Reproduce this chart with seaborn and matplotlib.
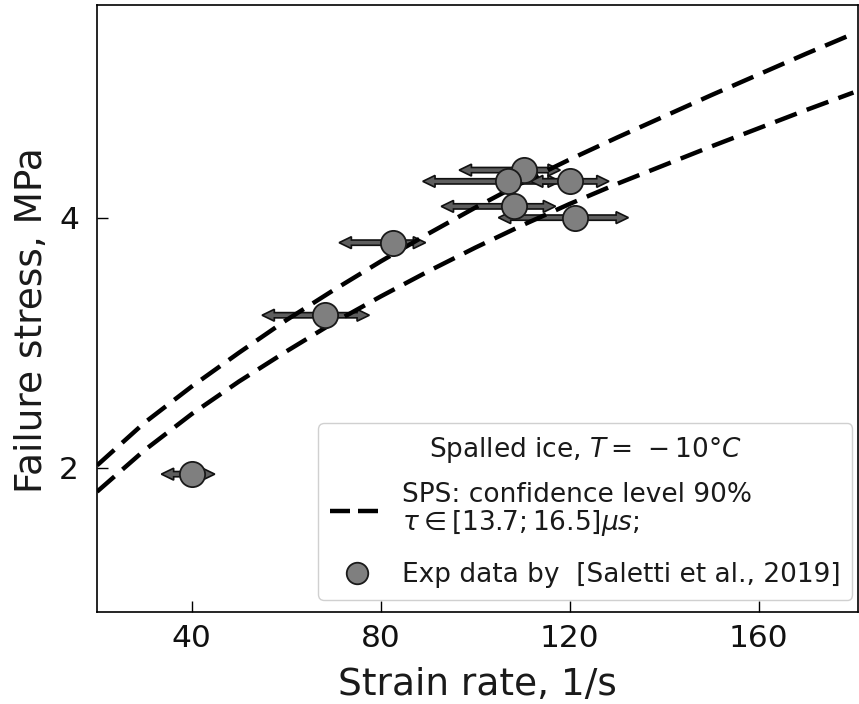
import matplotlib
matplotlib.use("Agg")
import matplotlib.pyplot as plt
import seaborn as sns
import pandas as pd
from matplotlib.lines import Line2D

# ---- data ----
curve_x = [20, 30, 40, 50, 60, 70, 80, 90, 100, 110, 120, 130, 140, 150, 160, 170, 180]
upper_y = [2.02, 2.36, 2.65, 2.92, 3.18, 3.42, 3.65, 3.87, 4.08, 4.28, 4.465, 4.64, 4.81, 4.98, 5.145, 5.31, 5.47]
lower_y = [1.81, 2.14, 2.43, 2.69, 2.93, 3.16, 3.37, 3.57, 3.76, 3.94, 4.11, 4.27, 4.42, 4.57, 4.715, 4.86, 5.00]

exp_rate = [40.0, 68.2, 82.5, 110.3, 106.9, 120.0, 108.2, 121.1]
exp_stress = [1.95, 3.22, 3.80, 4.38, 4.29, 4.29, 4.09, 4.00]
exp_rate_lo = [33.6, 54.9, 71.2, 96.6, 88.9, 111.7, 92.8, 104.9]
exp_rate_hi = [44.9, 77.6, 89.5, 118.0, 118.0, 128.3, 117.0, 132.4]

xticks = [40, 80, 120, 160]
yticks = [2, 4]

sns.set_theme(style="white")
plt.rcParams['font.family'] = ['DejaVu Sans']
plt.rcParams['mathtext.fontset'] = 'dejavusans'

fig = plt.figure(figsize=(8.59, 7.04), dpi=100)
ax = fig.add_axes([0.113, 0.131, 0.886, 0.862])

curves = pd.DataFrame({"rate": curve_x * 2,
                       "stress": upper_y + lower_y,
                       "bound": ["upper"] * len(curve_x) + ["lower"] * len(curve_x)})
for b in ["upper", "lower"]:
    sns.lineplot(data=curves[curves.bound == b], x="rate", y="stress", ax=ax,
                 color="black", lw=3.2, zorder=3, estimator=None, sort=True)
for ln in ax.get_lines():
    ln.set_dashes((5.2, 2.4))

# error arrows
for x, y, lo, hi in zip(exp_rate, exp_stress, exp_rate_lo, exp_rate_hi):
    for end in (lo, hi):
        ax.arrow(x, y, end - x, 0, width=0.042, head_width=0.095, head_length=2.6,
                 length_includes_head=True, fc="#5e5e5e", ec="#111111", lw=1.2, zorder=2)

exp = pd.DataFrame({"rate": exp_rate, "stress": exp_stress})
sns.scatterplot(data=exp, x="rate", y="stress", ax=ax, s=330, color="#7f7f7f",
                edgecolor="#1a1a1a", linewidth=1.3, zorder=5)

ax.set_xlim(20, 181)
ax.set_ylim(0.85, 5.7)
ax.set_xticks(xticks)
ax.set_yticks(yticks)
ax.tick_params(direction="in", length=8, width=1, labelsize=22.5,
               bottom=True, left=True, top=False, right=False, colors="black")
ax.tick_params(axis="x", pad=9)
ax.tick_params(axis="y", pad=13)
for t in ax.get_xticklabels() + ax.get_yticklabels():
    t.set_color("#111111")
for sp in ax.spines.values():
    sp.set_color("black")
    sp.set_linewidth(1.2)
ax.set_xlabel("Strain rate, 1/s", fontsize=27, labelpad=10, color="#1a1a1a")
ax.set_ylabel("Failure stress, MPa", fontsize=27, color="#1a1a1a")
ax.yaxis.set_label_coords(-0.062, 0.48)

handles = [Line2D([], [], color="black", lw=3.2, dashes=(4.5, 1.8)),
           Line2D([], [], marker="o", ls="", ms=15.5, mfc="#7f7f7f", mec="#1a1a1a", mew=1.3)]
labels = ["SPS: confidence level 90%\n" + r"$\tau \in [13.7; 16.5] \mu s$;",
          "Exp data by  [Saletti et al., 2019]"]
leg = ax.legend(handles, labels, loc="lower right", fontsize=19,
                title=r"Spalled ice, $T = \,-10°C$", title_fontsize=19,
                frameon=True, fancybox=True, framealpha=1, edgecolor="#d0d0d0",
                handlelength=2.0, handletextpad=0.7, borderpad=0.45, labelspacing=0.9,
                borderaxespad=0, bbox_to_anchor=(0.992, 0.02))
leg._legend_box.sep = 12
for t in leg.get_texts():
    t.set_color("#1a1a1a")
    t.set_linespacing(1.0)
leg.get_title().set_color("#1a1a1a")
fig.savefig("out.png", dpi=100)
